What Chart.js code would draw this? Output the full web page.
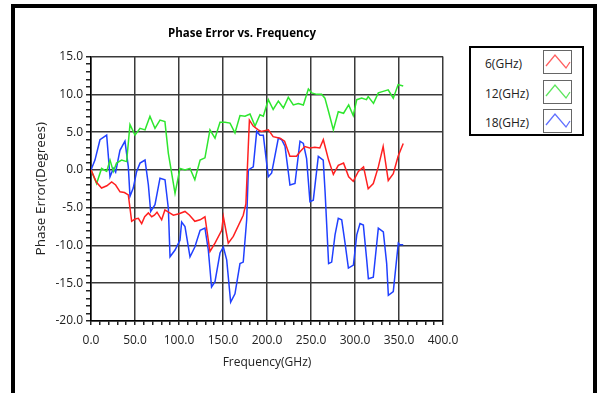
<!DOCTYPE html>
<html>
<head>
<meta charset="utf-8">
<script src="https://cdn.jsdelivr.net/npm/chart.js@4.4.1/dist/chart.umd.min.js"></script>
<style>
  body { margin: 0; background: #fff; width: 600px; height: 393px; overflow: hidden; position: relative; font-family: "Open Sans", sans-serif; }
  #frame { position: absolute; left: 11px; top: 4px; width: 578px; height: 420px; border: 4px solid #000; pointer-events: none; }
  #wrap { position: absolute; left: 13px; top: 8px; width: 458px; height: 385px; }
  #legend { position: absolute; left: 469px; top: 46px; width: 111px; height: 86px; border: 2.5px solid #000; background: #fff; }
  .item { position: absolute; left: 14px; font-size: 12px; color: #222; line-height: 16px; }
  .sw { position: absolute; left: 72px; width: 27px; height: 22px; border: 1.5px solid #666; }
</style>
</head>
<body>
<div id="wrap"><canvas id="myChart" width="458" height="385"></canvas></div>
<div id="frame"></div>
<div id="legend"></div>
<script>
// Phase error readings, three frequency bands
var redFreq = [0, 6, 12, 18, 23.5, 28, 33, 38, 42.4, 46.2, 50, 53.8, 57.6, 61, 65.2, 69, 72, 75, 80.3, 84, 88, 93.6, 100, 106.8, 112, 118, 124, 129.5, 135.2, 140.9, 148.5, 150.4, 156, 161.7, 173, 176, 180, 184.4, 190, 193.6, 201.5, 207, 214.8, 220, 226, 233.5, 237.5, 243, 248.6, 254.4, 260, 264, 270, 275.4, 281, 287, 292.8, 298, 303.8, 309.7, 315, 320.8, 326.5, 332, 337.8, 343.5, 349, 354.8];
var redVals = [0, -1.6, -2.4, -2.1, -1.6, -2.0, -2.9, -3.0, -3.3, -6.8, -6.5, -6.4, -7.1, -6.2, -5.7, -6.2, -6.0, -5.6, -6.6, -5.3, -5.6, -6.0, -5.8, -5.5, -6.0, -6.8, -6.6, -6.2, -10.8, -9.7, -8.0, -6.2, -9.7, -8.8, -6.0, -4.5, 6.6, 5.8, 5.3, 5.1, 5.3, 4.4, 4.2, 3.8, 1.8, 1.8, 2.4, 3.1, 2.9, 3.0, 2.9, 4.0, 1.3, -0.6, 0.6, 0.9, -0.9, -1.5, -0.2, 0.4, -2.5, -1.8, 0.4, 3.1, -1.4, -0.5, 1.8, 3.5];

var greenFreq = [0, 6.4, 12, 17.8, 21.6, 25.4, 29, 34.8, 40.5, 44.3, 50, 55.7, 61.4, 67, 72.7, 78.4, 84, 87.9, 95.5, 101.1, 106.8, 112.5, 118, 124, 129.5, 135.2, 140.9, 146.6, 152.3, 158, 163.6, 169.3, 175, 180.7, 186.4, 192, 195.8, 201.5, 207, 212.9, 218.6, 224.2, 229.9, 235.6, 241.3, 247, 250.8, 256.4, 262, 265.8, 270, 275.4, 281, 287, 292.8, 298, 302, 307.6, 313, 315, 321, 326.5, 332, 337.7, 343.5, 349, 354.8];
var greenVals = [0, -1.8, 0.2, -0.2, 1.3, -0.2, 0.9, 1.3, 1.1, 6.0, 4.6, 5.5, 5.3, 7.1, 5.5, 6.6, 6.4, 2.2, -3.1, 0.2, 0, 0.2, -1.3, 1.3, 1.6, 5.3, 4.2, 6.3, 6.3, 6.2, 4.9, 7.2, 7.1, 7.4, 5.8, 7.3, 7.1, 9.3, 8.0, 9.1, 8.2, 9.6, 8.6, 8.8, 8.6, 10.7, 10.2, 10.0, 10.0, 9.5, 7.7, 5.3, 7.7, 7.5, 8.6, 7.2, 9.3, 9.5, 9.3, 9.7, 8.8, 10.2, 10.4, 10.6, 9.5, 11.3, 11.1];

var blueFreq = [0, 4.5, 10.2, 17.8, 21.6, 25.4, 28, 32.9, 38.6, 42.4, 44.3, 48, 51.9, 55.7, 61.4, 65.2, 67.8, 72.7, 78.4, 84.1, 87.9, 89.8, 95.5, 101.1, 103, 106.8, 112.5, 118, 124, 129.5, 133.3, 137, 140.9, 146.6, 150.4, 154.2, 158.7, 163.6, 169.3, 173, 176.9, 178.8, 184.4, 188.3, 192, 195.8, 199.6, 201.5, 205.3, 212.9, 216.7, 220.5, 226.1, 231.8, 237.5, 241.3, 245, 248.8, 252.6, 258.3, 263.9, 266, 270, 273.5, 277.3, 281, 284.9, 288.7, 292.5, 298.2, 302, 305.7, 309.5, 313.3, 315.2, 320.8, 326.5, 332.2, 336, 337.9, 343.5, 349.2, 351, 354.8];
var blueVals = [0, 1.3, 4.0, 4.6, -0.9, 0.2, -0.3, 2.6, 3.8, 0.4, -3.5, -2.4, -0.2, 0.9, 1.3, -2.0, -5.5, -4.6, -1.1, -1.3, -5.1, -11.5, -10.6, -9.3, -6.9, -7.5, -11.5, -10.2, -8.0, -7.7, -10.6, -15.5, -14.8, -11.0, -10.2, -11.9, -17.5, -16.4, -12.4, -12.2, -6.6, 0, 0.4, 5.1, 4.6, 4.6, 0.9, -0.9, -0.4, 4.2, 4.0, 3.1, -2.0, -1.8, 3.8, 3.5, 1.5, -4.2, -4.0, 1.8, 1.3, -2.9, -12.4, -12.2, -8.6, -6.4, -6.6, -9.7, -13.0, -12.6, -8.6, -7.1, -7.3, -11.9, -14.4, -14.2, -7.7, -8.2, -12.4, -16.6, -16.1, -9.7, -9.9, -9.9];

var seriesNames = ["6(GHz)", "12(GHz)", "18(GHz)"];
var seriesColors = ["#ff2020", "#2ee62e", "#2040ff"];
var swatchColors = ["#ff6060", "#5ee65e", "#6070ff"];

function pts(xs, ys) {
  return xs.map(function (x, i) { return { x: x, y: ys[i] }; });
}

var font = { family: "'Open Sans', sans-serif", size: 12 };

var ctx = document.getElementById("myChart");
var myChart = new Chart(ctx, {
  type: "line",
  data: {
    datasets: [
      { label: seriesNames[0], data: pts(redFreq, redVals), borderColor: seriesColors[0] },
      { label: seriesNames[1], data: pts(greenFreq, greenVals), borderColor: seriesColors[1] },
      { label: seriesNames[2], data: pts(blueFreq, blueVals), borderColor: seriesColors[2] }
    ]
  },
  options: {
    responsive: false,
    animation: false,
    devicePixelRatio: 1,
    layout: { padding: 0 },
    elements: {
      point: { radius: 0 },
      line: { borderWidth: 1.5, tension: 0 }
    },
    plugins: {
      legend: { display: false },
      tooltip: { enabled: false },
      title: {
        display: true,
        text: "Phase Error vs. Frequency",
        color: "#000",
        font: { family: "'Open Sans', sans-serif", size: 11.5, weight: "bold" },
        padding: { top: 19, bottom: 15.8 }
      }
    },
    scales: {
      x: {
        type: "linear",
        min: 0,
        max: 400,
        afterFit: function (s) { s.height = 72; },
        border: { display: true, color: "#000", width: 1.5 },
        grid: {
          color: function (c) { return c.tick && c.tick.value % 50 === 0 ? "#3a3a3a" : "rgba(0,0,0,0)"; },
          tickColor: "#222",
          lineWidth: 1.5,
          tickLength: 4
        },
        ticks: {
          stepSize: 10,
          maxTicksLimit: 100,
          autoSkip: false,
          maxRotation: 0,
          padding: 8,
          color: "#222",
          font: font,
          callback: function (v) { return v % 50 === 0 ? v.toFixed(1) : ""; }
        },
        title: {
          display: true,
          text: "Frequency(GHz)",
          color: "#222",
          font: font,
          padding: { top: 0, bottom: 23 }
        }
      },
      y: {
        min: -20,
        max: 15,
        afterFit: function (s) { s.width = 78; },
        border: { display: true, color: "#000", width: 1.5 },
        grid: {
          color: function (c) { return c.tick && c.tick.value % 5 === 0 ? "#3a3a3a" : "rgba(0,0,0,0)"; },
          tickColor: "#222",
          lineWidth: 1.5,
          tickLength: 5
        },
        ticks: {
          stepSize: 1,
          maxTicksLimit: 100,
          autoSkip: false,
          padding: 3,
          color: "#222",
          font: font,
          callback: function (v) { return v % 5 === 0 ? v.toFixed(1) : ""; }
        },
        title: {
          display: true,
          text: "Phase Error(Degrees)",
          color: "#222",
          font: { family: "'Open Sans', sans-serif", size: 13.5 },
          padding: { top: 20, bottom: 0 }
        }
      },
      // empty right-hand strip so the title stays centred on the whole canvas
      spacer: {
        axis: "y",
        position: "right",
        min: 0,
        max: 1,
        afterFit: function (s) { s.width = 28; },
        grid: { display: false },
        border: { display: false },
        ticks: { display: false }
      }
    }
  }
});

// legend box on the right, drawn as html
var legend = document.getElementById("legend");
var rowTops = [8, 38, 67];
seriesNames.forEach(function (name, i) {
  var t = document.createElement("div");
  t.className = "item";
  t.style.top = rowTops[i] + "px";
  t.textContent = name;
  legend.appendChild(t);
  var sw = document.createElement("div");
  sw.className = "sw";
  sw.style.top = (rowTops[i] - 6) + "px";
  sw.innerHTML = '<svg width="27" height="22"><polyline points="2,15 11,4 22,17 26,11" fill="none" stroke="' +
    swatchColors[i] + '" stroke-width="1.3"/></svg>';
  legend.appendChild(sw);
});
</script>
</body>
</html>
